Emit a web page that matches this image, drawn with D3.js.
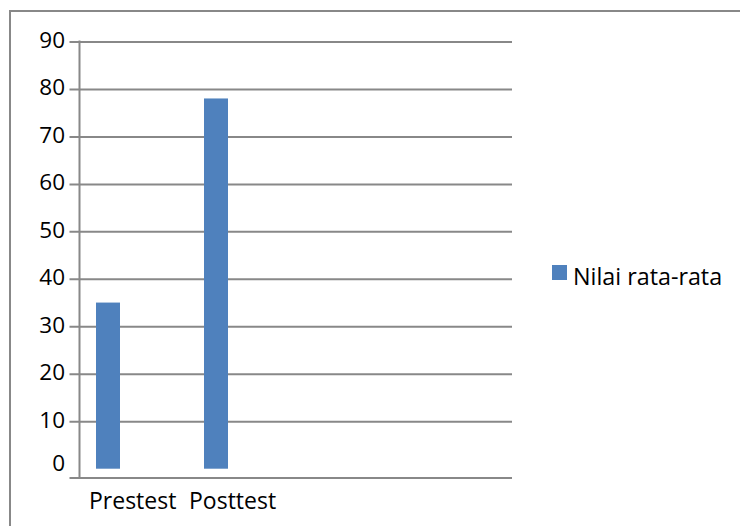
<!DOCTYPE html>
<html><head><meta charset="utf-8">
<script src="https://cdn.jsdelivr.net/npm/d3@7/dist/d3.min.js"></script>
<style>
html,body{margin:0;padding:0;background:#fff;}
svg{display:block;}
text{font-family:"Open Sans",sans-serif;fill:#000;}
</style></head>
<body>
<svg id="chart" width="740" height="526"></svg>
<script>
const categories = ["Prestest", "Posttest"];
const values = [35, 78];
const yTicks = [0, 10, 20, 30, 40, 50, 60, 70, 80, 90];
const seriesName = "Nilai rata-rata";

const svg = d3.select("#chart");
const gray = "#888888";
const blue = "#4f81bd";

// outer frame (cropped: only top and left visible)
svg.append("line").attr("x1", 9).attr("x2", 740).attr("y1", 11).attr("y2", 11)
  .attr("stroke", gray).attr("stroke-width", 2);
svg.append("line").attr("x1", 10).attr("x2", 10).attr("y1", 10).attr("y2", 526)
  .attr("stroke", gray).attr("stroke-width", 2);

const plotLeft = 79.5, plotRight = 512;
const y = d3.scaleLinear().domain([0, 90]).range([468.7, 41.5]);
const axisBottomY = 478;

const x = d3.scaleBand().domain(categories).range([54, 270]);
const xLabel = d3.scaleBand().domain(categories).range([89, 289]);
const barW = 24;

// gridlines + left ticks
const gAxis = svg.append("g").attr("transform", `translate(${plotLeft},0)`);
gAxis.call(d3.axisLeft(y).tickValues(yTicks.filter(v => v > 0)).tickSize(0).tickFormat(""));
gAxis.select(".domain").remove();
gAxis.selectAll(".tick line")
  .attr("x1", -10).attr("x2", plotRight - plotLeft)
  .attr("stroke", gray).attr("stroke-width", 2);

// y labels
svg.append("g").selectAll("text").data(yTicks).join("text")
  .attr("x", 65)
  .attr("y", d => d === 0 ? y(0) - 6 : y(d) - 1.5)
  .attr("dy", "0.357em")
  .attr("text-anchor", "end")
  .attr("font-size", 22.5)
  .text(d => d);

// y axis vertical line
svg.append("line").attr("x1", plotLeft).attr("x2", plotLeft)
  .attr("y1", y(90) - 1).attr("y2", axisBottomY + 1)
  .attr("stroke", gray).attr("stroke-width", 2);

// x axis line (with left tick)
svg.append("line").attr("x1", plotLeft - 10).attr("x2", plotRight)
  .attr("y1", axisBottomY).attr("y2", axisBottomY)
  .attr("stroke", gray).attr("stroke-width", 2);

// bars
svg.append("g").selectAll("rect").data(values).join("rect")
  .attr("x", (d, i) => x(categories[i]) + (x.bandwidth() - barW) / 2)
  .attr("width", barW)
  .attr("y", d => y(d))
  .attr("height", d => y(0) - y(d))
  .attr("fill", blue);

// category labels
svg.append("g").selectAll("text").data(categories).join("text")
  .attr("x", d => xLabel(d))
  .attr("y", 509)
  .attr("font-size", 23)
  .text(d => d);

// legend
const lg = svg.append("g").attr("transform", "translate(552,265)");
lg.append("rect").attr("width", 15).attr("height", 15).attr("fill", blue);
lg.append("text").attr("x", 21).attr("y", 20).attr("font-size", 23.3).text(seriesName);
</script>
</body></html>
